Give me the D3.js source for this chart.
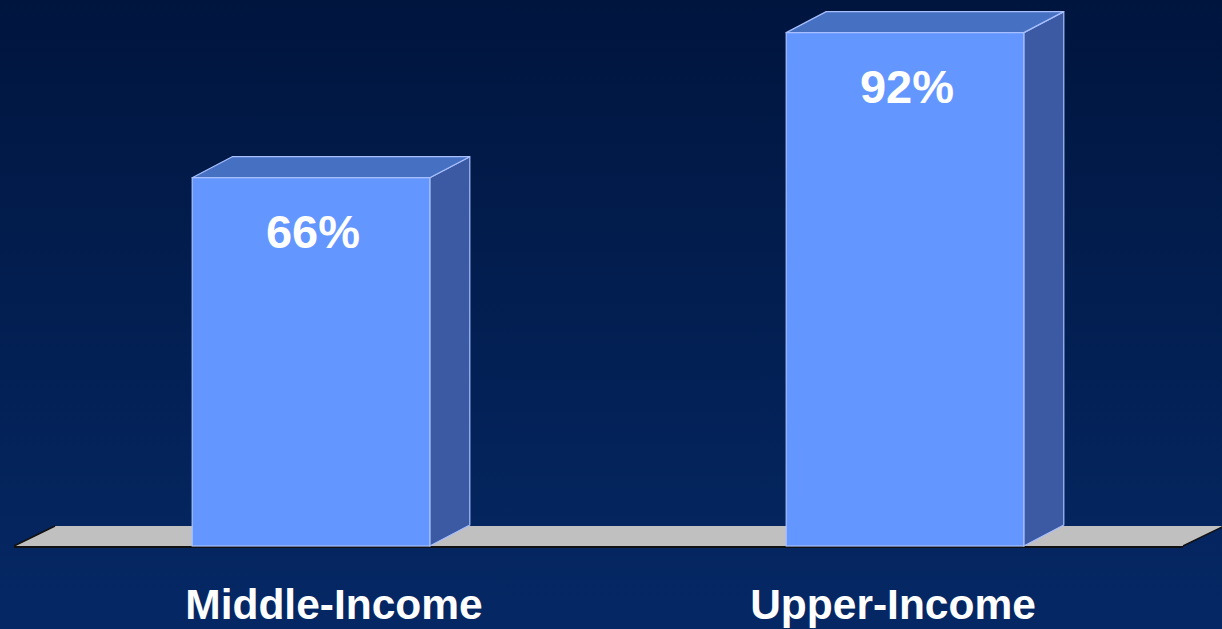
<!DOCTYPE html>
<html>
<head>
<meta charset="utf-8">
<script src="https://cdn.jsdelivr.net/npm/d3@7"></script>
<style>
  html, body { margin: 0; padding: 0; background: #021843; overflow: hidden; }
  svg { display: block; }
</style>
</head>
<body>
<div id="chart"></div>
<script>
// chart data
var categories = ["Middle-Income", "Upper-Income"];
var values = [66, 92];
var valueLabels = ["66%", "92%"];

var svgWidth = 1222;
var svgHeight = 629;

// 3d depth of the bars / floor
var depthX = 40;
var depthY = -21;

var svg = d3.select("#chart")
    .append("svg")
    .attr("width", svgWidth)
    .attr("height", svgHeight);

// background gradient
var defs = svg.append("defs");
var bg = defs.append("linearGradient")
    .attr("id", "bg")
    .attr("x1", 0).attr("y1", 0)
    .attr("x2", 0).attr("y2", 1);
bg.append("stop").attr("offset", "0%").attr("stop-color", "#00153e");
bg.append("stop").attr("offset", "100%").attr("stop-color", "#052865");

svg.append("rect")
    .attr("width", svgWidth)
    .attr("height", svgHeight)
    .attr("fill", "url(#bg)");

// scales
var xScale = d3.scaleBand()
    .domain(categories)
    .range([14, 1202])
    .paddingInner(0.6)
    .paddingOuter(0.3);

var yScale = d3.scaleLinear()
    .domain([0, 100])
    .range([546, -12]);

var labelScale = d3.scalePoint()
    .domain(categories)
    .range([334, 893]);

// floor
var floorY = yScale(0);
var floorLeft = 14, floorRight = 1183;
svg.append("path")
    .attr("d", `M${floorLeft},${floorY} L${floorLeft + depthX + 1},${floorY + depthY + 1} L${floorRight + depthX + 1},${floorY + depthY + 1} L${floorRight},${floorY} Z`)
    .attr("fill", "#c0c0c0");
svg.append("line")
    .attr("x1", floorLeft).attr("x2", floorRight)
    .attr("y1", floorY + 1).attr("y2", floorY + 1)
    .attr("stroke", "#111111")
    .attr("stroke-width", 2);
svg.append("line")
    .attr("x1", floorLeft).attr("x2", floorLeft + depthX + 1)
    .attr("y1", floorY).attr("y2", floorY + depthY + 1)
    .attr("stroke", "#111111")
    .attr("stroke-width", 1.5);
svg.append("line")
    .attr("x1", floorRight).attr("x2", floorRight + depthX + 1)
    .attr("y1", floorY).attr("y2", floorY + depthY + 1)
    .attr("stroke", "#111111")
    .attr("stroke-width", 1.5);

var data = categories.map(function (c, i) {
    return { cat: c, value: values[i], label: valueLabels[i] };
});

var bars = svg.selectAll("g.bar")
    .data(data)
    .enter()
    .append("g")
    .attr("class", "bar");

var edge = "#a9c0ff";

// side face
bars.append("path")
    .attr("d", function (d) {
        var x1 = xScale(d.cat) + xScale.bandwidth();
        var yt = yScale(d.value), yb = yScale(0);
        return `M${x1},${yb} L${x1},${yt} L${x1 + depthX},${yt + depthY} L${x1 + depthX},${yb + depthY} Z`;
    })
    .attr("fill", "#3b5aa3")
    .attr("stroke", edge)
    .attr("stroke-width", 1.2)
    .attr("stroke-linejoin", "round");

// top face
bars.append("path")
    .attr("d", function (d) {
        var x0 = xScale(d.cat), x1 = x0 + xScale.bandwidth();
        var yt = yScale(d.value);
        return `M${x0},${yt} L${x0 + depthX},${yt + depthY} L${x1 + depthX},${yt + depthY} L${x1},${yt} Z`;
    })
    .attr("fill", "#4670c2")
    .attr("stroke", edge)
    .attr("stroke-width", 1.2)
    .attr("stroke-linejoin", "round");

// front face
bars.append("rect")
    .attr("x", d => xScale(d.cat))
    .attr("y", d => yScale(d.value))
    .attr("width", xScale.bandwidth())
    .attr("height", d => yScale(0) - yScale(d.value))
    .attr("fill", "#6496ff")
    .attr("stroke", edge)
    .attr("stroke-width", 1.2);

// value labels
bars.append("text")
    .attr("x", d => xScale(d.cat) + xScale.bandwidth() / 2 + 2)
    .attr("y", d => yScale(d.value) + 70)
    .attr("text-anchor", "middle")
    .attr("fill", "#ffffff")
    .style("font-family", "Liberation Sans, Arial, sans-serif")
    .style("font-weight", "bold")
    .style("font-size", "47px")
    .text(d => d.label);

// category labels
svg.selectAll("text.cat")
    .data(categories)
    .enter()
    .append("text")
    .attr("class", "cat")
    .attr("x", d => labelScale(d))
    .attr("y", 619)
    .attr("text-anchor", "middle")
    .attr("fill", "#ffffff")
    .style("font-family", "Liberation Sans, Arial, sans-serif")
    .style("font-weight", "bold")
    .style("font-size", "42.5px")
    .text(d => d);
</script>
</body>
</html>
